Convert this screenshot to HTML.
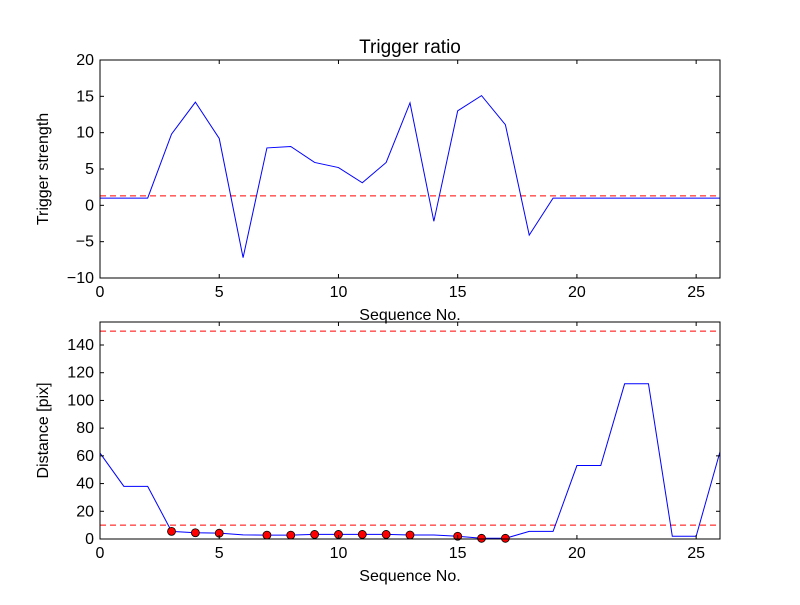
<!DOCTYPE html>
<html><head><meta charset="utf-8"><style>
body{margin:0;background:#fff}
svg{font-family:"Liberation Sans",sans-serif}
</style></head><body>
<svg id="c" width="800" height="600" xmlns="http://www.w3.org/2000/svg"></svg>
<script>
const seq = [0,1,2,3,4,5,6,7,8,9,10,11,12,13,14,15,16,17,18,19,20,21,22,23,24,25,26];
const strength = [1,1,1,9.8,14.2,9.2,-7.2,7.9,8.1,5.9,5.2,3.1,5.9,14.1,-2.2,13,15.1,11.1,-4.1,1,1,1,1,1,1,1,1];
const strengthThreshold = 1.3;
const distance = [62,38,38,5.5,4.5,4.2,3,2.8,2.8,3.3,3.3,3.3,3.3,2.9,2.9,2,0.5,0.5,5.5,5.5,53,53,112,112,2,2,63];
const distThresholds = [150,10];
const markedIdx = [3,4,5,7,8,9,10,11,12,13,15,16,17];
const xTicks = [0,5,10,15,20,25];
const yTicksTop = [-10,-5,0,5,10,15,20];
const yTicksBot = [0,20,40,60,80,100,120,140];

const svg=document.getElementById('c');
const NS='http://www.w3.org/2000/svg';
function mk(t,a,p){const e=document.createElementNS(NS,t);for(const k in a)e.setAttribute(k,a[k]);(p||svg).appendChild(e);return e;}
function panel(name,top,bot,ymin,ymax,yTicks,ys,thr,ylabel,title,dots){
  const L=100,R=720;
  const g=mk('g',{});
  
  
  const X=v=>L+(v-0)/(26-0)*(R-L);
  const Y=v=>bot-(v-ymin)/(ymax-ymin)*(bot-top);
  // thresholds
  thr.forEach(t=>{const l=mk('line',{x1:L,x2:R,y1:Y(t),y2:Y(t),stroke:'#f00','stroke-dasharray':'6,4','stroke-width':1},g);
    });
  const p=mk('polyline',{points:seq.map((x,i)=>X(x)+','+Y(ys[i])).join(' '),fill:'none',stroke:'#00f','stroke-width':1},g);
  
  if(dots)dots.forEach(i=>{const c=mk('circle',{cx:X(seq[i]),cy:Y(ys[i]),r:4,fill:'#f00',stroke:'#000','stroke-width':0.8},g);
    });
  const f=mk('rect',{x:L,y:top,width:R-L,height:bot-top,fill:'none',stroke:'#000','stroke-width':1},g);
  
  xTicks.forEach(t=>{const x=X(t);
    mk('line',{x1:x,x2:x,y1:bot,y2:bot-4,stroke:'#000'},g);mk('line',{x1:x,x2:x,y1:top,y2:top+4,stroke:'#000'},g);
    const tx=mk('text',{x:x,y:bot+19,'font-size':16,'text-anchor':'middle'},g);tx.textContent=t;
    });
  yTicks.forEach(t=>{const y=Y(t);
    mk('line',{x1:L,x2:L+4,y1:y,y2:y,stroke:'#000'},g);mk('line',{x1:R,x2:R-4,y1:y,y2:y,stroke:'#000'},g);
    const tx=mk('text',{x:L-6,y:y+5,'font-size':16,'text-anchor':'end'},g);tx.textContent=t<0?'\u2212'+(-t):t;
    });
  const xl=mk('text',{x:(L+R)/2,y:bot+42,'font-size':16,'text-anchor':'middle'},g);xl.textContent='Sequence No.';
  
  const cy=(top+bot)/2;
  const yl=mk('text',{x:48,y:cy,'font-size':16,'text-anchor':'middle',transform:`rotate(-90 48 ${cy})`},g);yl.textContent=ylabel;
  
  if(title){const tt=mk('text',{x:(L+R)/2,y:top-7,'font-size':19,'text-anchor':'middle'},g);tt.textContent=title;
    }
}
panel('top-panel',60,278,-10,20,yTicksTop,strength,[strengthThreshold],'Trigger strength','Trigger ratio',null);
panel('bottom-panel',322,539,0,156.6,yTicksBot,distance,distThresholds,'Distance [pix]',null,markedIdx);
</script>
</body></html>
